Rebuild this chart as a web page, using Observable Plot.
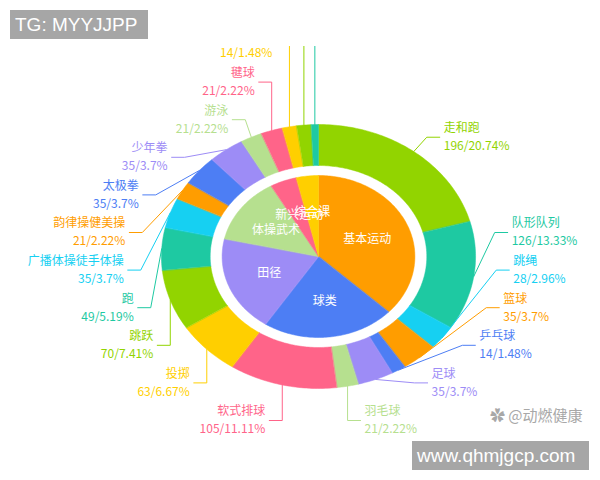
<!DOCTYPE html>
<html><head><meta charset="utf-8">
<script src="https://cdn.jsdelivr.net/npm/d3@7"></script>
<script src="https://cdn.jsdelivr.net/npm/@observablehq/plot@0.6"></script>
<style>
body{margin:0;background:#fff;}
#wrap{position:relative;width:600px;height:480px;overflow:hidden;}
.tag{position:absolute;background:#a6a6a6;color:#fff;font-family:"Liberation Sans",Arial,sans-serif;font-size:19px;white-space:nowrap;}
.wm{position:absolute;color:#a8a8a8;font-family:"Noto Sans CJK SC",sans-serif;font-size:15px;white-space:nowrap;}
</style></head>
<body><div id="wrap"></div>
<script>
// ---- data ----
const outerNames = ["走和跑","队形队列","跳绳","篮球","乒乓球","足球","羽毛球","软式排球","投掷","跳跃","跑","广播体操徒手体操","韵律操健美操","太极拳","少年拳","游泳","毽球","跳皮筋","滑冰","攀爬"];
const outerValues = [196,126,28,35,14,35,21,105,63,70,49,35,21,35,35,21,21,14,14,7];
const innerNames = ["基本运动","球类","田径","体操武术","新兴运动","综合课"];
const innerValues = [350,210,182,126,42,35];
const palette = ["#92d400","#1ec9a2","#16d0f2","#ff9d00","#4d7ef4","#9d8cf6","#b6e08f","#ff6489","#ffcf00"];

// ---- layout constants ----
const W = 600, H = 480, CX = 318, CY = 256, SX = 1.19, TOP = 46;
const R0 = 132, R1 = 91, RP = 81, L = 150, S = 37.6, BOTTOM = -164, LEN2 = 13, GAP = 4, LINE = 9, FS = 12;

const total = d3.sum(outerValues);
function arcs(values) {
  const t = d3.sum(values); let acc = 0;
  return values.map(v => { const a0 = acc / t * 2 * Math.PI; acc += v; return [a0, acc / t * 2 * Math.PI]; });
}
function wedge(id, color, a0, a1, rIn, rOut, out) {
  const n = Math.max(2, Math.ceil((a1 - a0) / (Math.PI / 180)));
  for (let i = 0; i <= n; i++) { const a = a0 + (a1 - a0) * i / n; out.push({id, color, x: rOut * Math.sin(a), y: rOut * Math.cos(a)}); }
  if (rIn > 0) for (let i = n; i >= 0; i--) { const a = a0 + (a1 - a0) * i / n; out.push({id, color, x: rIn * Math.sin(a), y: rIn * Math.cos(a)}); }
  else out.push({id, color, x: 0, y: 0});
}

const outerArcs = arcs(outerValues), innerArcs = arcs(innerValues);
const wedges = [];
outerArcs.forEach(([a0, a1], i) => wedge("o" + i, palette[i % 9], a0, a1, R1, R0, wedges));
innerArcs.forEach(([a0, a1], i) => wedge("i" + i, palette[(i + 3) % 9], a0, a1, 0, RP, wedges));

// outer labels (pie-style label layout: push apart vertically, keep within bottom bound)
const labels = outerNames.map((name, i) => {
  const [a0, a1] = outerArcs[i]; const mid = (a0 + a1) / 2;
  const pct = +(outerValues[i] / total * 100).toFixed(2);
  return {i, name, value: `${outerValues[i]}/${pct}%`, color: palette[i % 9], mid,
    dir: Math.sin(mid) >= 0 ? 1 : -1, ax: R0 * Math.sin(mid), ay: R0 * Math.cos(mid), want: L * Math.cos(mid)};
});
for (const dir of [1, -1]) {
  const side = labels.filter(d => d.dir === dir).sort((a, b) => b.want - a.want);
  side.forEach((d, k) => { d.ey = k === 0 ? d.want : Math.min(d.want, side[k - 1].ey - S); });
  const last = side[side.length - 1];
  if (last.ey < BOTTOM) {
    last.ey = BOTTOM;
    for (let k = side.length - 2; k >= 0; k--) side[k].ey = Math.max(side[k].ey, side[k + 1].ey + S);
  }
}
labels.forEach(d => {
  d.ex = d.dir * Math.max(Math.sqrt(Math.max(0, L * L - d.ey * d.ey)), Math.abs(d.ax));
  d.lx = d.ex + d.dir * LEN2 / SX;
  d.tx = d.ex + d.dir * (LEN2 + GAP) / SX;
});
const leaders = labels.flatMap(d => [
  {id: d.i, color: d.color, x: d.ax, y: d.ay},
  {id: d.i, color: d.color, x: d.ex, y: d.ey},
  {id: d.i, color: d.color, x: d.lx, y: d.ey}]);

// text rows (those that fall above the visible frame are not drawn, as in the cropped original)
const visibleTop = CY - TOP - FS / 2;
const nameRows = labels.filter(d => d.ey + LINE <= visibleTop);
const valueRows = labels.filter(d => d.ey - LINE <= visibleTop);

const innerLabels = innerNames.map((name, i) => {
  const mid = (innerArcs[i][0] + innerArcs[i][1]) / 2;
  return {name, x: RP * 0.55 * Math.sin(mid), y: RP * 0.55 * Math.cos(mid)};
});

const font = '"Noto Sans CJK SC", "Noto Sans", sans-serif';
const textOpts = (anchor, key, dy) => ({x: "tx", y: "ey", text: key, fill: "color", textAnchor: anchor, dy, fontSize: FS});

const chart = Plot.plot({
  width: W, height: H, marginTop: TOP, marginBottom: 0, marginLeft: 0, marginRight: 0,
  x: {domain: [-CX / SX, (W - CX) / SX], axis: null},
  y: {domain: [-(H - CY), CY - TOP], axis: null},
  color: {type: "identity"},
  style: {fontFamily: font, background: "white"},
  marks: [
    Plot.line(wedges, {x: "x", y: "y", z: "id", fill: "color", stroke: "color", strokeWidth: 0.5, curve: "linear-closed", clip: true}),
    Plot.line(leaders, {x: "x", y: "y", z: "id", stroke: "color", strokeWidth: 1, clip: true}),
    Plot.text(nameRows.filter(d => d.dir > 0), textOpts("start", "name", -LINE)),
    Plot.text(valueRows.filter(d => d.dir > 0), textOpts("start", "value", LINE)),
    Plot.text(nameRows.filter(d => d.dir < 0), textOpts("end", "name", -LINE)),
    Plot.text(valueRows.filter(d => d.dir < 0), textOpts("end", "value", LINE)),
    Plot.text(innerLabels, {x: "x", y: "y", text: "name", fill: "white", fontSize: FS})
  ]
});
const wrap = document.getElementById("wrap");
wrap.appendChild(chart);

function overlay(cls, text, css) {
  const el = document.createElement("div"); el.className = cls; el.textContent = text;
  Object.assign(el.style, css); wrap.appendChild(el);
}
overlay("tag", "TG: MYYJJPP", {left: "10px", top: "10px", width: "133px", height: "29px", lineHeight: "29px", paddingLeft: "5px"});
overlay("tag", "www.qhmjgcp.com", {left: "412px", top: "441px", width: "172px", height: "29px", lineHeight: "29px", paddingLeft: "5px"});
overlay("wm", "✿ @动燃健康", {left: "490px", top: "404px"});
</script>
</body></html>
